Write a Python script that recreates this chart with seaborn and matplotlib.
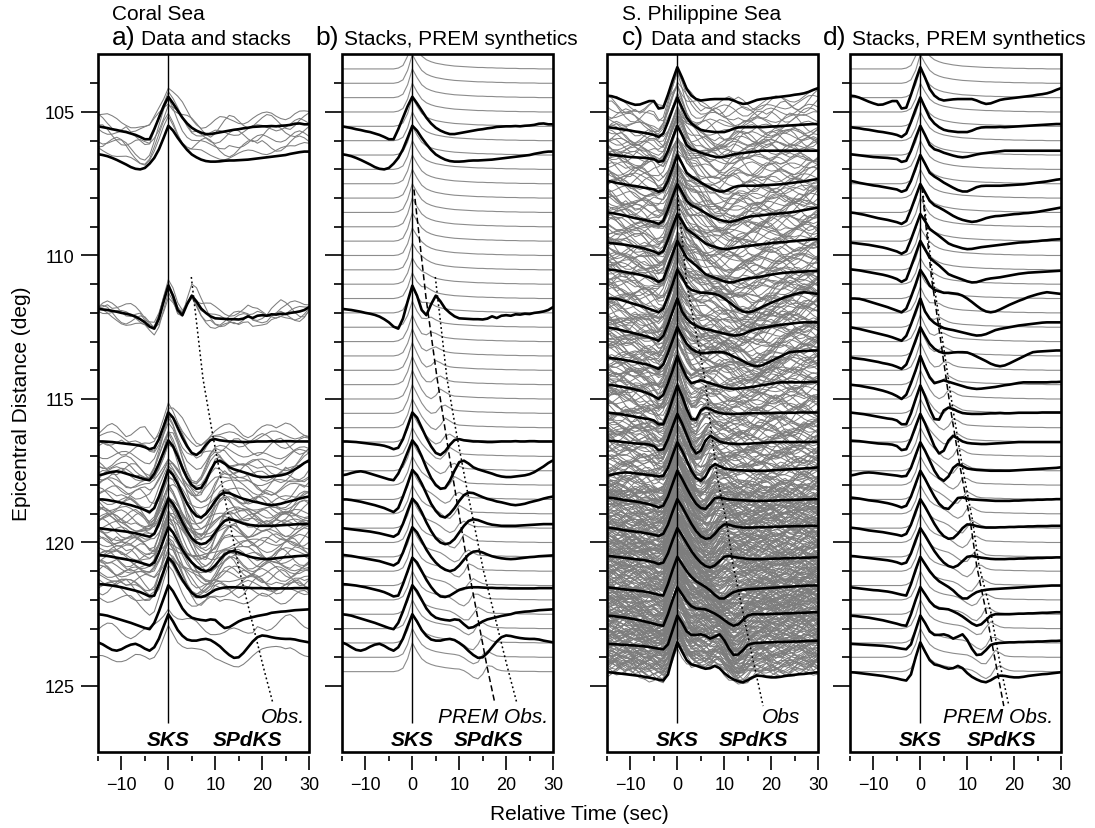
import numpy as np
import pandas as pd
import matplotlib
matplotlib.use("Agg")
import matplotlib.pyplot as plt
import seaborn as sns
from matplotlib.patches import Rectangle

# ---------------- data ----------------
TIME_S = list(range(-15, 31))          # relative time samples, 1 s

CORAL_STACK_DIST = [105.5, 106.5, 112.0, 116.5, 117.5, 118.5, 119.5, 120.5, 121.5, 122.5, 123.5]
CORAL_STACKS = [
    [0, -0.03, -0.06, -0.1, -0.13, -0.17, -0.2, -0.25, -0.3, -0.37,
     -0.45, -0.45, -0.1, 0.3, 0.7, 1.03, 0.8, 0.55, 0.3, 0.1,
     -0.05, -0.15, -0.22, -0.27, -0.27, -0.24, -0.21, -0.18, -0.15, -0.12,
     -0.1, -0.07, -0.05, -0.02, -0.01, 0.0, 0.0, 0.01, 0.0, 0.02,
     0.03, 0.05, 0.09, 0.1, 0.07, 0.07],
    [0.03, 0.0, -0.04, -0.1, -0.17, -0.25, -0.33, -0.42, -0.48, -0.5,
     -0.45, -0.3, -0.1, 0.2, 0.6, 1.02, 0.85, 0.6, 0.38, 0.18,
     0.02, -0.08, -0.16, -0.21, -0.23, -0.23, -0.22, -0.2, -0.19, -0.19,
     -0.18, -0.17, -0.16, -0.14, -0.12, -0.1, -0.08, -0.06, -0.04, -0.02,
     0.0, 0.04, 0.07, 0.1, 0.12, 0.12],
    [0.14, 0.12, 0.1, 0.07, 0.04, 0.0, -0.03, -0.07, -0.13, -0.22,
     -0.33, -0.48, -0.55, -0.2, 0.4, 0.95, 0.6, 0.1, -0.08, 0.3,
     0.6, 0.4, 0.15, 0.0, -0.12, -0.19, -0.2, -0.21, -0.22, -0.22,
     -0.23, -0.2, -0.12, -0.18, -0.1, -0.08, -0.1, -0.05, -0.06, -0.03,
     -0.04, 0.0, 0.02, 0.05, 0.1, 0.2],
    [0.02, 0.02, 0.01, 0.0, -0.02, -0.04, -0.06, -0.08, -0.1, -0.13,
     -0.18, -0.25, -0.2, 0.1, 0.55, 1.03, 0.85, 0.5, 0.15, -0.15,
     -0.38, -0.45, -0.32, -0.1, 0.07, 0.1, 0.06, 0.04, 0.02, 0.02,
     0.01, 0.0, 0.0, 0.01, 0.02, 0.02, 0.02, 0.03, 0.02, 0.02,
     0.03, 0.03, 0.02, 0.02, 0.02, 0.02],
    [-0.16, -0.13, -0.08, -0.04, -0.02, -0.05, -0.1, -0.15, -0.2, -0.25,
     -0.3, -0.33, -0.1, 0.25, 0.65, 1.06, 0.85, 0.5, 0.1, -0.25,
     -0.5, -0.63, -0.6, -0.35, 0.0, 0.3, 0.35, 0.25, 0.12, 0.05,
     0.0, -0.05, -0.1, -0.16, -0.2, -0.22, -0.22, -0.2, -0.18, -0.16,
     -0.12, -0.05, 0.05, 0.15, 0.27, 0.36],
    [0.0, 0.0, -0.02, -0.05, -0.08, -0.12, -0.16, -0.2, -0.25, -0.3,
     -0.37, -0.44, -0.3, 0.1, 0.55, 1.03, 0.85, 0.55, 0.2, -0.15,
     -0.4, -0.58, -0.63, -0.5, -0.3, -0.05, 0.15, 0.24, 0.22, 0.15,
     0.08, 0.02, -0.02, -0.07, -0.1, -0.14, -0.18, -0.2, -0.18, -0.15,
     -0.1, -0.06, -0.02, 0.03, 0.07, 0.1],
    [0.0, -0.02, -0.04, -0.06, -0.08, -0.1, -0.12, -0.15, -0.18, -0.22,
     -0.26, -0.3, -0.2, 0.15, 0.6, 1.03, 0.85, 0.55, 0.2, -0.1,
     -0.35, -0.5, -0.56, -0.52, -0.38, -0.15, 0.08, 0.25, 0.31, 0.28,
     0.22, 0.16, 0.12, 0.1, 0.08, 0.08, 0.08, 0.08, 0.09, 0.1,
     0.11, 0.12, 0.13, 0.14, 0.14, 0.14],
    [0.07, 0.05, 0.03, 0.0, -0.03, -0.06, -0.09, -0.12, -0.15, -0.2,
     -0.25, -0.3, -0.2, 0.15, 0.6, 1.03, 0.85, 0.55, 0.25, 0.0,
     -0.2, -0.35, -0.45, -0.5, -0.45, -0.3, -0.1, 0.08, 0.18, 0.2,
     0.15, 0.08, 0.02, -0.02, -0.05, -0.07, -0.08, -0.07, -0.05, -0.03,
     -0.01, 0.0, 0.02, 0.03, 0.04, 0.05],
    [0.05, 0.04, 0.02, 0.0, -0.03, -0.06, -0.1, -0.14, -0.18, -0.23,
     -0.3, -0.38, -0.35, 0.05, 0.5, 0.97, 0.8, 0.5, 0.2, -0.05,
     -0.25, -0.38, -0.4, -0.35, -0.25, -0.15, -0.1, -0.07, -0.06, -0.06,
     -0.07, -0.08, -0.08, -0.09, -0.09, -0.09, -0.1, -0.1, -0.1, -0.1,
     -0.1, -0.1, -0.09, -0.09, -0.09, -0.09],
    [0.0, -0.02, -0.05, -0.1, -0.15, -0.2, -0.25, -0.3, -0.36, -0.42,
     -0.48, -0.52, -0.3, 0.1, 0.55, 1.01, 0.8, 0.5, 0.2, 0.0,
     -0.12, -0.17, -0.2, -0.22, -0.18, -0.2, -0.35, -0.48, -0.45, -0.35,
     -0.25, -0.18, -0.14, -0.1, -0.06, -0.03, 0.0, 0.05, 0.07, 0.09,
     0.1, 0.12, 0.14, 0.15, 0.16, 0.17],
    [0.02, -0.05, -0.15, -0.24, -0.27, -0.22, -0.13, -0.06, -0.03, -0.1,
     -0.2, -0.27, -0.15, 0.15, 0.58, 1.0, 0.75, 0.45, 0.25, 0.12,
     0.08, 0.08, 0.12, 0.14, 0.1, 0.0, -0.12, -0.28, -0.42, -0.52,
     -0.5, -0.35, -0.15, 0.05, 0.2, 0.26, 0.24, 0.2, 0.17, 0.15,
     0.14, 0.14, 0.12, 0.08, 0.05, 0.02],
]

PHIL_STACK_DIST = [104.5, 105.5, 106.5, 107.5, 108.5, 109.5, 110.5, 111.5, 112.5, 113.5, 114.5,
                   115.5, 116.5, 117.5, 118.5, 119.5, 120.5, 121.5, 122.5, 123.5, 124.5]
PHIL_STACKS = [
    [0.07, 0.05, 0.0, -0.07, -0.14, -0.2, -0.25, -0.24, -0.18, -0.12,
     -0.12, -0.38, -0.35, 0.1, 0.6, 1.06, 0.7, 0.3, 0.07, -0.05,
     -0.1, -0.08, -0.06, -0.05, -0.05, -0.05, -0.05, -0.1, -0.17, -0.22,
     -0.2, -0.14, -0.08, -0.05, -0.03, -0.01, 0.01, 0.03, 0.05, 0.07,
     0.1, 0.12, 0.15, 0.2, 0.27, 0.33],
    [-0.03, -0.05, -0.07, -0.1, -0.12, -0.15, -0.18, -0.2, -0.23, -0.26,
     -0.3, -0.37, -0.25, 0.15, 0.6, 1.01, 0.65, 0.3, 0.1, -0.03,
     -0.12, -0.16, -0.18, -0.2, -0.2, -0.2, -0.15, -0.08, -0.04, -0.03,
     -0.03, -0.03, -0.02, -0.03, -0.02, -0.01, 0.0, 0.01, 0.02, 0.03,
     0.04, 0.05, 0.06, 0.07, 0.08, 0.08],
    [0.03, 0.01, -0.01, -0.03, -0.05, -0.07, -0.08, -0.09, -0.1, -0.12,
     -0.14, -0.24, -0.2, 0.15, 0.6, 1.02, 0.7, 0.35, 0.2, 0.15,
     0.08, 0.03, -0.02, -0.06, -0.08, -0.06, -0.02, 0.02, 0.05, 0.07,
     0.09, 0.11, 0.13, 0.15, 0.15, 0.15, 0.15, 0.15, 0.15, 0.15,
     0.15, 0.15, 0.15, 0.15, 0.15, 0.15],
    [0.1, 0.07, 0.03, 0.0, -0.03, -0.06, -0.08, -0.11, -0.14, -0.17,
     -0.2, -0.28, -0.22, 0.1, 0.55, 1.0, 0.7, 0.38, 0.25, 0.15,
     0.04, -0.05, -0.14, -0.22, -0.27, -0.27, -0.2, -0.12, -0.08, -0.07,
     -0.07, -0.07, -0.07, -0.06, -0.05, -0.04, -0.03, -0.02, 0.0, 0.02,
     0.04, 0.06, 0.08, 0.11, 0.14, 0.16],
    [0.0, -0.02, -0.05, -0.08, -0.12, -0.16, -0.2, -0.23, -0.26, -0.3,
     -0.34, -0.4, -0.3, 0.1, 0.55, 0.99, 0.7, 0.4, 0.25, 0.17,
     0.08, -0.02, -0.12, -0.2, -0.26, -0.3, -0.33, -0.31, -0.26, -0.2,
     -0.16, -0.13, -0.12, -0.1, -0.08, -0.06, -0.05, -0.03, -0.02, 0.0,
     0.02, 0.05, 0.08, 0.11, 0.14, 0.17],
    [-0.05, -0.07, -0.09, -0.11, -0.13, -0.16, -0.19, -0.22, -0.26, -0.31,
     -0.36, -0.44, -0.35, 0.05, 0.5, 0.94, 0.7, 0.42, 0.3, 0.18,
     0.05, -0.08, -0.15, -0.2, -0.25, -0.28, -0.27, -0.24, -0.21, -0.19,
     -0.17, -0.15, -0.13, -0.11, -0.09, -0.07, -0.05, -0.04, -0.03, -0.01,
     0.0, 0.02, 0.03, 0.05, 0.06, 0.07],
    [0.02, 0.0, -0.02, -0.05, -0.08, -0.11, -0.14, -0.17, -0.21, -0.26,
     -0.32, -0.42, -0.33, 0.1, 0.55, 1.01, 0.72, 0.42, 0.28, 0.15,
     0.0, -0.15, -0.22, -0.28, -0.34, -0.4, -0.44, -0.43, -0.38, -0.33,
     -0.3, -0.28, -0.26, -0.23, -0.2, -0.17, -0.14, -0.12, -0.1, -0.09,
     -0.08, -0.07, -0.06, -0.05, -0.04, -0.03],
    [0.0, 0.0, -0.01, -0.05, -0.1, -0.15, -0.2, -0.25, -0.3, -0.36,
     -0.42, -0.48, -0.35, 0.05, 0.5, 1.0, 0.75, 0.45, 0.3, 0.25,
     0.2, 0.2, 0.18, 0.16, 0.1, 0.0, -0.12, -0.25, -0.37, -0.45,
     -0.48, -0.45, -0.38, -0.3, -0.22, -0.15, -0.08, -0.02, 0.05, 0.1,
     0.15, 0.19, 0.22, 0.2, 0.18, 0.16],
    [0.0, -0.03, -0.06, -0.1, -0.14, -0.18, -0.22, -0.26, -0.3, -0.35,
     -0.41, -0.47, -0.3, 0.1, 0.55, 1.0, 0.55, 0.3, 0.15, 0.05,
     -0.03, -0.07, -0.1, -0.14, -0.18, -0.22, -0.26, -0.29, -0.28, -0.24,
     -0.17, -0.1, -0.06, -0.03, 0.0, 0.03, 0.06, 0.08, 0.1, 0.12,
     0.14, 0.16, 0.17, 0.17, 0.17, 0.17],
    [-0.05, -0.08, -0.1, -0.12, -0.15, -0.18, -0.21, -0.25, -0.28, -0.32,
     -0.38, -0.45, -0.3, 0.1, 0.55, 1.0, 0.7, 0.42, 0.25, 0.15,
     0.1, 0.1, 0.12, 0.13, 0.13, 0.12, 0.06, -0.02, -0.1, -0.18,
     -0.27, -0.33, -0.36, -0.33, -0.26, -0.18, -0.1, -0.02, 0.06, 0.13,
     0.15, 0.16, 0.17, 0.18, 0.19, 0.19],
    [0.0, -0.02, -0.04, -0.07, -0.1, -0.13, -0.17, -0.21, -0.26, -0.32,
     -0.4, -0.5, -0.35, 0.05, 0.5, 1.0, 0.6, 0.25, 0.05, 0.1,
     0.15, 0.1, 0.05, 0.0, -0.05, -0.1, -0.13, -0.15, -0.14, -0.12,
     -0.1, -0.08, -0.05, -0.02, 0.0, 0.03, 0.06, 0.08, 0.08, 0.08,
     0.08, 0.08, 0.08, 0.09, 0.09, 0.1],
    [0.03, 0.01, -0.01, -0.03, -0.06, -0.09, -0.12, -0.15, -0.18, -0.2,
     -0.25, -0.38, -0.38, 0.0, 0.5, 0.97, 0.6, 0.15, -0.2, -0.22,
     0.1, 0.2, 0.15, 0.07, 0.01, -0.01, -0.02, -0.02, -0.02, -0.01,
     0.0, 0.0, 0.01, 0.0, 0.0, 0.01, 0.02, 0.02, 0.02, 0.02,
     0.02, 0.03, 0.03, 0.03, 0.03, 0.03],
    [0.05, 0.04, 0.03, 0.01, -0.01, -0.03, -0.05, -0.06, -0.07, -0.09,
     -0.14, -0.28, -0.25, 0.1, 0.55, 0.98, 0.65, 0.25, -0.15, -0.4,
     -0.3, 0.05, 0.22, 0.12, 0.02, -0.03, -0.05, -0.06, -0.07, -0.07,
     -0.06, -0.05, -0.04, -0.03, -0.02, -0.01, 0.0, 0.0, 0.0, 0.0,
     0.0, 0.0, 0.0, 0.0, 0.0, 0.0],
    [-0.17, -0.14, -0.1, -0.07, -0.06, -0.07, -0.09, -0.11, -0.13, -0.15,
     -0.17, -0.2, -0.18, 0.1, 0.55, 0.99, 0.7, 0.35, 0.0, -0.25,
     -0.35, -0.2, 0.1, 0.23, 0.16, 0.08, 0.05, 0.03, 0.02, 0.01,
     0.0, 0.0, 0.0, 0.0, 0.0, 0.01, 0.02, 0.03, 0.04, 0.05,
     0.06, 0.07, 0.08, 0.09, 0.1, 0.12],
    [0.07, 0.05, 0.03, 0.0, -0.03, -0.05, -0.07, -0.1, -0.13, -0.17,
     -0.22, -0.28, -0.22, 0.1, 0.55, 1.0, 0.72, 0.4, 0.1, -0.15,
     -0.3, -0.33, -0.15, 0.05, 0.07, 0.03, 0.0, -0.01, -0.02, -0.03,
     -0.04, -0.05, -0.05, -0.05, -0.05, -0.04, -0.04, -0.03, -0.02, -0.02,
     -0.01, -0.01, 0.0, 0.0, 0.01, 0.01],
    [0.02, 0.0, -0.02, -0.05, -0.08, -0.1, -0.12, -0.14, -0.17, -0.2,
     -0.23, -0.27, -0.2, 0.12, 0.58, 1.01, 0.75, 0.45, 0.15, -0.1,
     -0.28, -0.37, -0.35, -0.2, 0.0, 0.13, 0.12, 0.07, 0.04, 0.02,
     0.02, 0.02, 0.03, 0.03, 0.04, 0.04, 0.05, 0.05, 0.06, 0.06,
     0.07, 0.07, 0.07, 0.08, 0.08, 0.08],
    [0.03, 0.02, 0.0, -0.02, -0.04, -0.06, -0.08, -0.1, -0.12, -0.15,
     -0.19, -0.25, -0.2, 0.12, 0.58, 1.0, 0.75, 0.47, 0.2, -0.02,
     -0.2, -0.32, -0.37, -0.3, -0.15, 0.0, 0.03, 0.0, -0.03, -0.05,
     -0.07, -0.08, -0.08, -0.08, -0.07, -0.07, -0.06, -0.06, -0.05, -0.05,
     -0.04, -0.04, -0.03, -0.03, -0.02, -0.02],
    [-0.06, -0.08, -0.1, -0.12, -0.14, -0.16, -0.17, -0.19, -0.21, -0.24,
     -0.28, -0.32, -0.35, 0.05, 0.55, 1.0, 0.75, 0.5, 0.3, 0.15,
     0.05, -0.05, -0.17, -0.33, -0.45, -0.45, -0.33, -0.23, -0.18, -0.15,
     -0.13, -0.12, -0.11, -0.1, -0.09, -0.08, -0.07, -0.06, -0.05, -0.04,
     -0.03, -0.02, -0.01, 0.0, 0.0, 0.0],
    [-0.05, -0.06, -0.08, -0.1, -0.12, -0.15, -0.18, -0.21, -0.25, -0.29,
     -0.33, -0.38, -0.4, 0.0, 0.5, 0.94, 0.7, 0.45, 0.28, 0.2,
     0.19, 0.17, 0.1, 0.02, -0.08, -0.2, -0.32, -0.4, -0.35, -0.2,
     -0.05, 0.0, 0.0, 0.0, 0.0, 0.01, 0.02, 0.02, 0.03, 0.03,
     0.04, 0.05, 0.05, 0.06, 0.07, 0.07],
    [-0.03, -0.04, -0.05, -0.06, -0.07, -0.08, -0.09, -0.1, -0.12, -0.14,
     -0.17, -0.2, -0.22, -0.05, 0.45, 0.95, 0.7, 0.4, 0.28, 0.28,
     0.3, 0.25, 0.15, 0.22, 0.3, 0.1, -0.2, -0.42, -0.4, -0.25,
     -0.07, -0.02, 0.0, 0.01, 0.02, 0.02, 0.03, 0.03, 0.04, 0.04,
     0.05, 0.05, 0.06, 0.07, 0.07, 0.08],
    [-0.02, -0.03, -0.05, -0.07, -0.09, -0.11, -0.13, -0.15, -0.18, -0.21,
     -0.24, -0.28, -0.31, -0.1, 0.5, 1.02, 0.7, 0.4, 0.25, 0.21,
     0.15, 0.1, 0.12, 0.2, 0.12, -0.05, -0.18, -0.27, -0.34, -0.37,
     -0.3, -0.2, -0.14, -0.15, -0.18, -0.2, -0.2, -0.18, -0.15, -0.13,
     -0.11, -0.09, -0.08, -0.06, -0.04, -0.02],
]

# PREM synthetic: SKS pulse and SPdKS wavelet (relative to its moveout time)
SYN_DIST = [103.0 + 0.5 * i for i in range(44)]
SKS_SYN = [0, 0, 0, 0, 0, 0, 0, 0, 0, 0,
           0, 0.0, 0.03, 0.12, 0.45, 1.0, 0.7, 0.45, 0.32, 0.25,
           0.2, 0.17, 0.14, 0.12, 0.1, 0.09, 0.08, 0.07, 0.06, 0.05,
           0.05, 0.04, 0.04, 0.03, 0.03, 0.02, 0.02, 0.02, 0.01, 0.01,
           0.01, 0.01, 0.0, 0.0, 0.0, 0.0]
SPDKS_T = [-6, -5, -4, -3, -2, -1, 0, 1, 2, 3]
SPDKS_W = [0, -0.05, -0.14, -0.25, -0.28, -0.1, 0.2, 0.12, 0.03, 0]
SPDKS_AMP_DIST = [103.0, 109.0, 112.0, 116.0, 125.0]
SPDKS_AMP = [0.0, 0.0, 0.5, 1.0, 1.1]

# moveout curves (distance, time)
PREM_CORAL_D = [107.7, 111.45, 114.3, 117.1, 120.6, 124.3, 125.6]
PREM_CORAL_T = [0.35, 2.9, 5.3, 8.0, 11.6, 15.9, 17.6]
OBS_CORAL_D = [110.75, 114.3, 116.1, 118.1, 121.0, 124.3, 125.6]
OBS_CORAL_T = [4.9, 7.4, 9.3, 11.6, 15.2, 20.2, 22.3]
OBS_PHIL_C_D = [107.9, 111.0, 114.3, 116.6, 117.8, 119.3, 120.8, 124.06, 125.7]
OBS_PHIL_C_T = [0.1, 2.0, 5.9, 7.6, 8.6, 10.5, 11.9, 16.1, 18.3]
PREM_PHIL_D = [107.6, 110.8, 112.8, 115.2, 117.3, 119.2, 120.8, 122.4, 124.4, 125.7]
PREM_PHIL_T = [0.3, 2.4, 4.2, 6.3, 8.4, 10.6, 12.0, 14.0, 16.3, 17.8]
OBS_PHIL_D_D = [107.6, 110.8, 112.8, 115.2, 117.3, 119.2, 120.8, 122.4, 124.4, 125.7]
OBS_PHIL_D_T = [0.4, 2.7, 4.6, 6.8, 8.9, 11.1, 12.5, 15.0, 17.2, 18.9]

# individual seismograms: (first distance, last distance, count)
CORAL_GRAY_GROUPS = [(105.15, 106.3, 7), (111.8, 112.2, 5), (116.1, 117.3, 7), (117.3, 119.0, 14),
                     (119.0, 121.6, 30), (121.9, 121.9, 1), (122.9, 122.9, 1), (123.9, 123.9, 1)]
PHIL_GRAY_GROUPS = [(104.6, 106.0, 14), (106.0, 108.0, 28), (108.0, 110.0, 34), (110.0, 112.0, 36),
                    (112.0, 114.0, 44), (114.0, 116.0, 40), (116.0, 118.0, 48), (118.0, 120.0, 80),
                    (120.0, 122.0, 90), (122.0, 124.4, 105)]
# trace-to-trace departures of individual records from the stacks
PERTURB = [
    [0.05, 0.1, 0.15, 0.12, 0.05, -0.05, -0.12, -0.15, -0.1, 0.0,
     0.1, 0.15, 0.1, 0.0, -0.1, -0.05, 0.05, 0.15, 0.2, 0.1,
     -0.05, -0.15, -0.2, -0.12, 0.0, 0.12, 0.2, 0.15, 0.05, -0.05,
     -0.15, -0.2, -0.15, -0.05, 0.05, 0.12, 0.15, 0.1, 0.0, -0.1,
     -0.15, -0.1, 0.0, 0.08, 0.12, 0.1],
    [-0.1, -0.05, 0.05, 0.15, 0.2, 0.15, 0.05, -0.08, -0.18, -0.2,
     -0.12, 0.0, 0.1, 0.12, 0.05, -0.05, -0.15, -0.22, -0.15, 0.0,
     0.15, 0.25, 0.2, 0.08, -0.05, -0.12, -0.1, 0.0, 0.1, 0.18,
     0.15, 0.05, -0.08, -0.18, -0.22, -0.15, -0.02, 0.1, 0.18, 0.2,
     0.12, 0.0, -0.1, -0.15, -0.1, 0.0],
    [0.0, 0.08, 0.12, 0.08, -0.02, -0.12, -0.2, -0.18, -0.08, 0.05,
     0.18, 0.25, 0.18, 0.05, -0.1, -0.2, -0.22, -0.12, 0.02, 0.12,
     0.15, 0.1, 0.0, -0.1, -0.18, -0.15, -0.05, 0.08, 0.2, 0.28,
     0.22, 0.08, -0.08, -0.2, -0.25, -0.18, -0.05, 0.08, 0.15, 0.12,
     0.05, -0.05, -0.12, -0.1, 0.0, 0.1],
    [0.15, 0.12, 0.05, -0.05, -0.12, -0.1, 0.0, 0.12, 0.2, 0.15,
     0.02, -0.12, -0.22, -0.2, -0.08, 0.08, 0.2, 0.22, 0.12, -0.02,
     -0.12, -0.18, -0.12, 0.0, 0.12, 0.22, 0.25, 0.15, 0.0, -0.12,
     -0.2, -0.18, -0.08, 0.05, 0.12, 0.1, 0.02, -0.08, -0.15, -0.12,
     -0.02, 0.1, 0.2, 0.22, 0.15, 0.05],
    [-0.05, -0.12, -0.18, -0.15, -0.05, 0.08, 0.18, 0.2, 0.12, 0.0,
     -0.1, -0.15, -0.1, 0.02, 0.12, 0.15, 0.08, -0.05, -0.15, -0.2,
     -0.12, 0.02, 0.15, 0.22, 0.18, 0.05, -0.1, -0.2, -0.22, -0.12,
     0.02, 0.15, 0.2, 0.15, 0.02, -0.1, -0.18, -0.15, -0.05, 0.08,
     0.18, 0.2, 0.12, 0.0, -0.1, -0.15],
    [0.1, 0.02, -0.08, -0.15, -0.15, -0.08, 0.02, 0.1, 0.12, 0.08,
     0.0, -0.08, -0.05, 0.05, 0.15, 0.22, 0.2, 0.1, -0.02, -0.12,
     -0.2, -0.22, -0.15, -0.02, 0.1, 0.18, 0.15, 0.05, -0.08, -0.18,
     -0.2, -0.1, 0.05, 0.18, 0.25, 0.2, 0.08, -0.05, -0.15, -0.2,
     -0.15, -0.05, 0.05, 0.12, 0.12, 0.05],
]
GRAY_AMP = [1.0, 0.85, 1.15, 0.95, 1.25, 0.8, 1.05, 0.9, 1.1]
GRAY_PERT = [1.0, 1.4, 0.7, 1.2, 0.9, 1.6, 0.8]

for name, arrs in [("CORAL", CORAL_STACKS), ("PHIL", PHIL_STACKS), ("PERT", PERTURB), ("SYN", [SKS_SYN])]:
    for i, a in enumerate(arrs):
        if len(a) != len(TIME_S):
            raise ValueError(f"{name}[{i}] has {len(a)} samples")

# ---------------- build tables ----------------
T = np.array(TIME_S, dtype=float)


def stack_table(dists, stacks):
    rows = []
    for u, (d, s) in enumerate(zip(dists, stacks)):
        for t, a in zip(TIME_S, s):
            rows.append((u, t, d - a))
    return pd.DataFrame(rows, columns=["unit", "t", "dist"])


def gray_table(groups, dists, stacks):
    arr = np.array(stacks)
    rows = []
    k = 0
    for d0, d1, n in groups:
        ds = [d0] if n == 1 else np.linspace(d0, d1, n)
        for d in ds:
            base = np.array([np.interp(d, dists, arr[:, j]) for j in range(arr.shape[1])])
            pert = np.roll(np.array(PERTURB[k % len(PERTURB)]), (k * 7) % len(TIME_S))
            amp = base * GRAY_AMP[k % len(GRAY_AMP)] + pert * GRAY_PERT[k % len(GRAY_PERT)]
            for t, a in zip(TIME_S, amp):
                rows.append((k, t, d - a))
            k += 1
    return pd.DataFrame(rows, columns=["unit", "t", "dist"])


def synth_table(prem_d, prem_t):
    rows = []
    for u, d in enumerate(SYN_DIST):
        tau = np.interp(d, prem_d, prem_t)
        a_sp = np.interp(d, SPDKS_AMP_DIST, SPDKS_AMP)
        amp = np.array(SKS_SYN) + a_sp * np.interp(T - tau, SPDKS_T, SPDKS_W, left=0, right=0)
        for t, a in zip(TIME_S, amp):
            rows.append((u, t, d - a))
    return pd.DataFrame(rows, columns=["unit", "t", "dist"])


coral_stack_df = stack_table(CORAL_STACK_DIST, CORAL_STACKS)
phil_stack_df = stack_table(PHIL_STACK_DIST, PHIL_STACKS)
coral_gray_df = gray_table(CORAL_GRAY_GROUPS, CORAL_STACK_DIST, CORAL_STACKS)
phil_gray_df = gray_table(PHIL_GRAY_GROUPS, PHIL_STACK_DIST, PHIL_STACKS)
coral_syn_df = synth_table(PREM_CORAL_D, PREM_CORAL_T)
phil_syn_df = synth_table(PREM_PHIL_D, PREM_PHIL_T)

# ---------------- figure ----------------
sns.set_style("ticks")
plt.rcParams["font.family"] = ["Liberation Sans", "DejaVu Sans"]
plt.rcParams["axes.unicode_minus"] = True
for key in ["text.color", "axes.labelcolor", "xtick.color", "ytick.color", "axes.edgecolor"]:
    plt.rcParams[key] = "black"

W, H = 1095, 829
fig = plt.figure(figsize=(W / 100, H / 100), dpi=100)


def fx(x):
    return x / W


def fy(y):
    return 1 - y / H


AX_LEFT = [98, 342, 607, 850]
AX_W, AX_TOP, AX_BOT = 211, 55, 753
axes = [fig.add_axes([fx(l), fy(AX_BOT), AX_W / W, (AX_BOT - AX_TOP) / H]) for l in AX_LEFT]

GRAY_DATA = "#7d7d7d"
GRAY_SYN = "#8c8c8c"
YTOP, YBOT = 102.98, 127.3


def draw_traces(ax, df, color, lw, z):
    sns.lineplot(data=df, x="t", y="dist", units="unit", estimator=None, sort=False,
                 color=color, linewidth=lw, ax=ax, legend=False, zorder=z)


def draw_moveout(ax, d, t, style):
    ls = (0, (1.2, 1.8)) if style == "dot" else (0, (4, 2.2))
    sns.lineplot(x=t, y=d, sort=False, estimator=None, color="k", linewidth=1.1,
                 linestyle=ls, ax=ax, legend=False, zorder=5)


# panel a
draw_traces(axes[0], coral_gray_df, GRAY_DATA, 0.75, 1)
draw_traces(axes[0], coral_stack_df, "k", 1.9, 3)
draw_moveout(axes[0], OBS_CORAL_D, OBS_CORAL_T, "dot")
# panel b
draw_traces(axes[1], coral_syn_df, GRAY_SYN, 0.8, 1)
draw_traces(axes[1], coral_stack_df, "k", 1.9, 3)
draw_moveout(axes[1], PREM_CORAL_D, PREM_CORAL_T, "dash")
draw_moveout(axes[1], OBS_CORAL_D, OBS_CORAL_T, "dot")
# panel c
draw_traces(axes[2], phil_gray_df, GRAY_DATA, 0.7, 1)
draw_traces(axes[2], phil_stack_df, "k", 1.9, 3)
draw_moveout(axes[2], OBS_PHIL_C_D, OBS_PHIL_C_T, "dot")
# panel d
draw_traces(axes[3], phil_syn_df, GRAY_SYN, 0.8, 1)
draw_traces(axes[3], phil_stack_df, "k", 1.9, 3)
draw_moveout(axes[3], PREM_PHIL_D, PREM_PHIL_T, "dash")
draw_moveout(axes[3], OBS_PHIL_D_D, OBS_PHIL_D_T, "dot")

OBS_LABELS = ["Obs.", "PREM Obs.", "Obs", "PREM Obs."]
OBS_RIGHT = [29.1, 28.9, 26.2, 28.3]
SPDKS_X = [16.9, 16.3, 16.3, 17.4]

for i, ax in enumerate(axes):
    ax.set_xlim(-15, 30)
    ax.set_ylim(YBOT, YTOP)
    ax.set_xlabel("")
    ax.set_ylabel("")
    ax.vlines(0, YTOP, 126.3, color="k", linewidth=1.0, zorder=2.5)
    ax.text(0, 126.88, "SKS", ha="center", va="center", fontsize=15,
            fontweight="bold", fontstyle="italic", color="black", zorder=6)
    ax.text(SPDKS_X[i], 126.88, "SPdKS", ha="center", va="center", fontsize=15,
            fontweight="bold", fontstyle="italic", color="black", zorder=6)
    ax.text(OBS_RIGHT[i], 126.08, OBS_LABELS[i], ha="right", va="center", fontsize=15,
            fontstyle="italic", color="black", zorder=6)
    ax.set_yticks([105, 110, 115, 120, 125])
    ax.set_yticks(list(range(104, 125)), minor=True)
    ax.set_xticks([-10, 0, 10, 20, 30])
    ax.set_xticks([-15, -5, 5, 15, 25], minor=True)
    ax.tick_params(axis="y", which="major", direction="out", length=12, width=1.2,
                   left=True, right=False, labelsize=13, pad=5, labelleft=(i == 0),
                   color="black", labelcolor="black")
    ax.tick_params(axis="y", which="minor", direction="out", length=6, width=1.2,
                   left=True, right=False, color="black")
    ax.tick_params(axis="x", which="major", direction="out", length=10, width=1.2,
                   bottom=True, top=False, labelsize=13, pad=4, color="black",
                   labelcolor="black")
    ax.tick_params(axis="x", which="minor", direction="out", length=3.6, width=1.2,
                   bottom=True, top=False, color="black")
    for s in ax.spines.values():
        s.set_visible(False)
    ax.spines["bottom"].set_position(("outward", 3))
    ax.add_patch(Rectangle((0, 0), 1, 1, transform=ax.transAxes, fill=False,
                           linewidth=1.9, edgecolor="k", clip_on=False, zorder=10))
    ax.set_facecolor("white")

# titles
TITLE_LEFT = [112, 315, 622, 823]
LETTERS = ["a)", "b)", "c)", "d)"]
TITLES = ["Data and stacks", "Stacks, PREM synthetics", "Data and stacks", "Stacks, PREM synthetics"]
for l, let, tt in zip(TITLE_LEFT, LETTERS, TITLES):
    fig.text(fx(l), fy(45), let, fontsize=19, ha="left", va="baseline", color="black")
    fig.text(fx(l + 29), fy(45), tt, fontsize=15, ha="left", va="baseline", color="black")
fig.text(fx(112), fy(20), "Coral Sea", fontsize=15, ha="left", va="baseline", color="black")
fig.text(fx(622), fy(20), "S. Philippine Sea", fontsize=15, ha="left", va="baseline", color="black")

fig.text(fx(579), fy(815), "Relative Time (sec)", fontsize=15, ha="center", va="center",
         color="black")
fig.text(fx(22), fy(404), "Epicentral Distance (deg)", fontsize=15, ha="center",
         va="center", rotation=90, color="black")

fig.savefig("out.png", dpi=100, facecolor="white")
